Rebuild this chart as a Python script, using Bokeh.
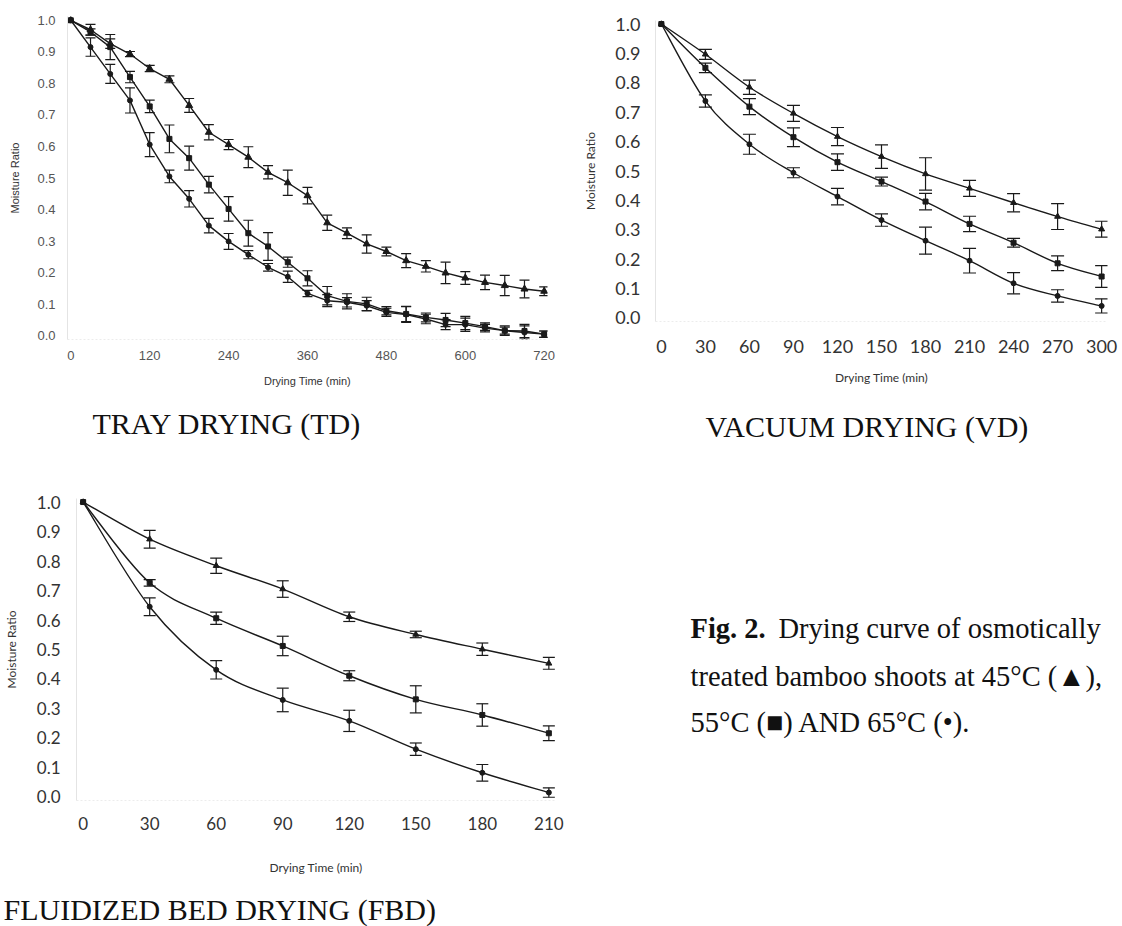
from bokeh.plotting import figure
from bokeh.models import (Range1d, FixedTicker, PrintfTickFormatter, Whisker, TeeHead,
                          ColumnDataSource)
from bokeh.layouts import column, row
from bokeh.core.properties import value
from bokeh.embed import file_html
from bokeh.resources import INLINE

# ---------------- data ----------------
Y_TICKS = [0.0, 0.1, 0.2, 0.3, 0.4, 0.5, 0.6, 0.7, 0.8, 0.9, 1.0]

# Tray drying (TD)
TD_TIME = [0, 30, 60, 90, 120, 150, 180, 210, 240, 270, 300, 330, 360, 390, 420, 450,
           480, 510, 540, 570, 600, 630, 660, 690, 720]
TD_XTICKS = [0, 120, 240, 360, 480, 600, 720]
TD_45 = [1.0, 0.970, 0.926, 0.893, 0.847, 0.813, 0.730, 0.645, 0.606, 0.566, 0.518, 0.485, 0.444,
         0.358, 0.325, 0.291, 0.267, 0.238, 0.220, 0.199, 0.183, 0.169, 0.159, 0.148, 0.141]
TD_55 = [1.0, 0.963, 0.915, 0.820, 0.727, 0.624, 0.563, 0.479, 0.402, 0.325, 0.283, 0.233, 0.182,
         0.127, 0.109, 0.101, 0.079, 0.069, 0.058, 0.050, 0.040, 0.029, 0.016, 0.015, 0.005]
TD_65 = [1.0, 0.915, 0.830, 0.746, 0.606, 0.505, 0.434, 0.349, 0.299, 0.257, 0.217, 0.187, 0.134,
         0.111, 0.106, 0.095, 0.074, 0.067, 0.053, 0.035, 0.035, 0.024, 0.016, 0.010, 0.005]
TD_45_ERR = [0, 0.017, 0.015, 0.008, 0.010, 0.011, 0.022, 0.024, 0.016, 0.033, 0.021, 0.040, 0.026,
             0.024, 0.017, 0.029, 0.014, 0.022, 0.018, 0.034, 0.020, 0.023, 0.032, 0.028, 0.014]
TD_55_ERR = [0, 0.010, 0.040, 0.018, 0.020, 0.044, 0.038, 0.026, 0.039, 0.041, 0.044, 0.016, 0.024,
             0.029, 0.024, 0.021, 0.013, 0.024, 0.014, 0.021, 0.021, 0.012, 0.015, 0.021, 0.010]
TD_65_ERR = [0, 0.029, 0.030, 0.040, 0.038, 0.020, 0.026, 0.023, 0.025, 0.013, 0.012, 0.018, 0.010,
             0.019, 0.015, 0.016, 0.013, 0.025, 0.015, 0.016, 0.021, 0.012, 0.011, 0.021, 0.010]

# Vacuum drying (VD)
VD_TIME = [0, 30, 60, 90, 120, 150, 180, 210, 240, 270, 300]
VD_XTICKS = [0, 30, 60, 90, 120, 150, 180, 210, 240, 270, 300]
VD_45 = [1.0, 0.897, 0.785, 0.696, 0.617, 0.549, 0.490, 0.441, 0.392, 0.345, 0.302]
VD_55 = [1.0, 0.851, 0.719, 0.615, 0.530, 0.464, 0.396, 0.320, 0.256, 0.186, 0.141]
VD_65 = [1.0, 0.738, 0.591, 0.494, 0.413, 0.333, 0.263, 0.195, 0.118, 0.075, 0.041]
VD_45_ERR = [0, 0.017, 0.024, 0.027, 0.031, 0.040, 0.055, 0.027, 0.031, 0.044, 0.027]
VD_55_ERR = [0, 0.016, 0.027, 0.032, 0.028, 0.015, 0.028, 0.026, 0.015, 0.025, 0.037]
VD_65_ERR = [0, 0.021, 0.034, 0.017, 0.028, 0.021, 0.046, 0.042, 0.036, 0.021, 0.024]

# Fluidized bed drying (FBD)
FBD_TIME = [0, 30, 60, 90, 120, 150, 180, 210]
FBD_XTICKS = [0, 30, 60, 90, 120, 150, 180, 210]
FBD_45 = [1.0, 0.874, 0.784, 0.705, 0.611, 0.551, 0.501, 0.453]
FBD_55 = [1.0, 0.726, 0.606, 0.512, 0.411, 0.331, 0.278, 0.216]
FBD_65 = [1.0, 0.645, 0.431, 0.329, 0.258, 0.162, 0.082, 0.015]
FBD_45_ERR = [0, 0.030, 0.026, 0.028, 0.016, 0.011, 0.021, 0.020]
FBD_55_ERR = [0, 0.011, 0.021, 0.033, 0.017, 0.046, 0.038, 0.025]
FBD_65_ERR = [0, 0.030, 0.031, 0.040, 0.036, 0.021, 0.028, 0.016]

TITLES = ["TRAY DRYING (TD)", "VACUUM DRYING (VD)", "FLUIDIZED BED DRYING (FBD)"]
CAPTION_BOLD = "Fig. 2."
CAPTION_LINES = ["Drying curve of osmotically",
                 "treated bamboo shoots at 45°C (▲),",
                 "55°C (■) AND 65°C (•)."]

INK = "#1a1a1a"
SERIF = "Liberation Serif"


def base_fig(w, h, xr, yr, ml, mr, mt, mb):
    p = figure(width=w, height=h, x_range=Range1d(*xr), y_range=Range1d(*yr),
               toolbar_location=None, output_backend="svg", title=None,
               min_border_left=ml, min_border_right=mr, min_border_top=mt, min_border_bottom=mb)
    p.grid.visible = False
    p.outline_line_color = None
    p.background_fill_color = "white"
    p.border_fill_color = "white"
    return p


def text_fig(w, h):
    # plain text strip, coordinates in pixels from its top-left corner
    p = figure(width=w, height=h, x_range=Range1d(0, w), y_range=Range1d(h, 0),
               toolbar_location=None, output_backend="svg", x_axis_type=None,
               y_axis_type=None, title=None, min_border=0)
    p.grid.visible = False
    p.outline_line_color = None
    return p


def style_axes(p, xticks, font, tick_px, lab_px, tick_color, xls, yls, xals, yals):
    p.xaxis.ticker = FixedTicker(ticks=xticks)
    p.yaxis.ticker = FixedTicker(ticks=Y_TICKS)
    p.yaxis.formatter = PrintfTickFormatter(format="%.1f")
    for ax in (p.xaxis[0], p.yaxis[0]):
        ax.major_tick_line_color = None
        ax.minor_tick_line_color = None
        ax.major_label_text_font = font
        ax.major_label_text_font_size = tick_px
        ax.major_label_text_color = tick_color
        ax.axis_label_text_font = font
        ax.axis_label_text_font_size = lab_px
        ax.axis_label_text_font_style = "normal"
        ax.axis_label_text_color = "#333333"
    p.xaxis.axis_label = "Drying Time (min)"
    p.yaxis.axis_label = "Moisture Ratio"
    p.xaxis.major_label_standoff = xls
    p.yaxis.major_label_standoff = yls
    p.xaxis.axis_label_standoff = xals
    p.yaxis.axis_label_standoff = yals
    p.yaxis.axis_line_color = "#e4e4e4"
    p.xaxis.axis_line_color = "#ececec"
    p.xaxis.axis_line_dash = "2 2"


def smooth_segments(xs, ys):
    # Bezier control points (Catmull-Rom style, like a spreadsheet "smoothed line")
    n = len(xs)
    out = dict(x0=[], y0=[], x1=[], y1=[], cx0=[], cy0=[], cx1=[], cy1=[])
    for i in range(n - 1):
        xa, ya = xs[max(i - 1, 0)], ys[max(i - 1, 0)]
        xb, yb = xs[i], ys[i]
        xc, yc = xs[i + 1], ys[i + 1]
        xd, yd = xs[min(i + 2, n - 1)], ys[min(i + 2, n - 1)]
        out["x0"].append(xb); out["y0"].append(yb)
        out["x1"].append(xc); out["y1"].append(yc)
        out["cx0"].append(xb + (xc - xa) / 6.0); out["cy0"].append(yb + (yc - ya) / 6.0)
        out["cx1"].append(xc - (xd - xb) / 6.0); out["cy1"].append(yc - (yd - yb) / 6.0)
    return out


def draw_series(p, t, vals, errs, marker, msize, smooth, cap, lw=1.4):
    if smooth:
        src = ColumnDataSource(smooth_segments(t, vals))
        p.bezier(x0="x0", y0="y0", x1="x1", y1="y1", cx0="cx0", cy0="cy0",
                 cx1="cx1", cy1="cy1", source=src, line_color=INK, line_width=lw)
    else:
        p.line(t, vals, line_color=INK, line_width=lw)
    esrc = ColumnDataSource(dict(
        x=t[1:],
        upper=[v + e for v, e in zip(vals[1:], errs[1:])],
        lower=[v - e for v, e in zip(vals[1:], errs[1:])]))
    w = Whisker(source=esrc, base="x", upper="upper", lower="lower", dimension="height",
                line_color=INK, line_width=1.2,
                upper_head=TeeHead(size=cap, line_color=INK, line_width=1.2),
                lower_head=TeeHead(size=cap, line_color=INK, line_width=1.2))
    p.add_layout(w)
    p.scatter(t, vals, marker=marker, size=msize, fill_color=INK, line_color=INK)


def title_strip(w, h, text, x, y):
    s = text_fig(w, h)
    s.text(x=[x], y=[y], text=[text], text_font=value(SERIF), text_font_size="30px",
           text_baseline="middle", text_align="left", text_color="#111111")
    return s


# ---------------- TD ----------------
td = base_fig(580, 400, (-5, 725), (-0.012, 1.012), 67, 33, 16, 61)
style_axes(td, TD_XTICKS, "Liberation Sans", "13px", "11px", "#555555", 5, 6, 12, 13)
draw_series(td, TD_TIME, TD_45, TD_45_ERR, "triangle", 7, False, 10)
draw_series(td, TD_TIME, TD_55, TD_55_ERR, "square", 5, False, 10)
draw_series(td, TD_TIME, TD_65, TD_65_ERR, "circle", 5, False, 10)
td_title = title_strip(580, 45, TITLES[0], 92, 23)

# ---------------- VD ----------------
vd = base_fig(542, 400, (-4, 304), (-0.012, 1.012), 72, 15, 20, 79)
style_axes(vd, VD_XTICKS, "Lato", "18px", "12px", "#333333", 12, 9, 14, 14)
draw_series(vd, VD_TIME, VD_45, VD_45_ERR, "triangle", 6, True, 13)
draw_series(vd, VD_TIME, VD_55, VD_55_ERR, "square", 5, True, 13)
draw_series(vd, VD_TIME, VD_65, VD_65_ERR, "circle", 5, True, 13)
vd_title = title_strip(542, 45, TITLES[1], 125, 26)

# ---------------- FBD ----------------
fbd = base_fig(580, 440, (-3, 213), (-0.012, 1.012), 73, 25, 53, 85)
style_axes(fbd, FBD_XTICKS, "Lato", "17px", "12px", "#333333", 10, 10, 27, 15)
draw_series(fbd, FBD_TIME, FBD_45, FBD_45_ERR, "triangle", 6, True, 12)
draw_series(fbd, FBD_TIME, FBD_55, FBD_55_ERR, "square", 5, True, 12)
draw_series(fbd, FBD_TIME, FBD_65, FBD_65_ERR, "circle", 5, True, 12)
fbd_title = title_strip(580, 41, TITLES[2], 3, 24)

# ---------------- caption ----------------
cap = text_fig(542, 481)
cap.text(x=[110], y=[183], text=[CAPTION_BOLD], text_font=value(SERIF), text_font_style="bold",
         text_font_size="28.5px", text_baseline="middle", text_color="#111111")
cap.text(x=[198, 110, 110], y=[183, 231, 277], text=CAPTION_LINES,
         text_font=value(SERIF), text_font_size="28.5px", text_baseline="middle",
         text_color="#111111")

layout = column(
    row(column(column(td), column(td_title)), column(column(vd), column(vd_title))),
    row(column(column(fbd), column(fbd_title)), column(cap)))
open("out.html", "w").write(file_html(layout, INLINE))
